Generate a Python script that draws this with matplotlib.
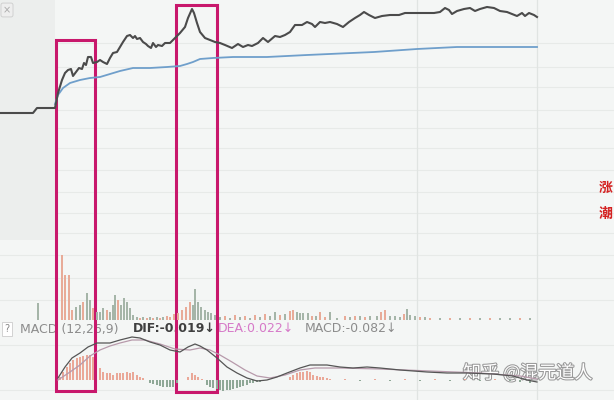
import matplotlib.pyplot as plt
from matplotlib.patches import Rectangle
import matplotlib.patheffects as pe

plt.rcParams['font.family'] = ['DejaVu Sans', 'Noto Sans CJK SC']

# intraday price line (time index, price)
price_t = [0, 33, 37, 55, 58, 62, 65, 68, 71, 73, 76, 79, 82, 84, 86, 88, 91, 93, 97, 100,
           103, 107, 110, 113, 117, 120, 123, 127, 130, 133, 135, 137, 140, 143, 146, 148, 151, 153, 156, 158,
           162, 165, 170, 175, 180, 185, 188, 192, 194, 197, 200, 205, 210, 215, 220, 225, 232, 238, 243, 248,
           252, 258, 263, 268, 275, 280, 285, 290, 295, 302, 307, 312, 315, 320, 325, 330, 337, 343, 349, 355,
           360, 364, 369, 375, 382, 390, 399, 405, 414, 422, 434, 440, 445, 449, 452, 457, 464, 470, 475, 480,
           487, 494, 500, 507, 512, 517, 522, 525, 529, 534, 537]
price = [10.00, 10.00, 10.05, 10.05, 10.20, 10.33, 10.40, 10.43, 10.44, 10.37, 10.41, 10.45, 10.44, 10.50, 10.48, 10.56, 10.56, 10.50, 10.51, 10.53,
         10.51, 10.49, 10.55, 10.60, 10.61, 10.66, 10.71, 10.77, 10.78, 10.75, 10.77, 10.74, 10.75, 10.71, 10.69, 10.67, 10.65, 10.70, 10.66, 10.68,
         10.67, 10.70, 10.70, 10.75, 10.80, 10.86, 10.95, 11.04, 11.00, 10.90, 10.81, 10.75, 10.73, 10.71, 10.70, 10.68, 10.65, 10.69, 10.66, 10.68,
         10.67, 10.70, 10.75, 10.71, 10.77, 10.76, 10.78, 10.81, 10.88, 10.88, 10.91, 10.89, 10.86, 10.91, 10.90, 10.91, 10.89, 10.86, 10.91, 10.95,
         10.98, 11.01, 10.98, 10.95, 10.97, 10.98, 10.98, 11.00, 11.00, 11.00, 11.00, 11.01, 11.05, 11.03, 10.99, 11.02, 11.04, 11.05, 11.02, 11.04,
         11.06, 11.05, 11.02, 11.01, 10.99, 10.97, 11.00, 10.97, 11.00, 10.98, 10.96]

# average price line
avg_t = [55, 58, 63, 70, 80, 90, 100, 110, 120, 133, 150, 167, 180, 187, 193, 200, 213, 233, 267, 307,
         374, 417, 457, 537]
avg = [10.09, 10.18, 10.25, 10.30, 10.33, 10.35, 10.36, 10.39, 10.42, 10.45, 10.45, 10.46, 10.47, 10.49, 10.51, 10.54, 10.55, 10.56, 10.56, 10.58,
       10.61, 10.64, 10.66, 10.66]

# volume bars (time index, volume, up/down)
vol_t = [38, 62, 65, 69, 72, 76, 80, 83, 87, 90, 93, 97, 100, 103, 107, 110, 113, 115, 118, 121,
         124, 127, 130, 133, 137, 140, 143, 147, 150, 153, 157, 160, 163, 167, 170, 174, 178, 182, 186, 190,
         193, 195, 198, 201, 205, 208, 211, 215, 220, 225, 230, 235, 240, 245, 250, 255, 260, 265, 270, 275,
         280, 285, 290, 293, 297, 300, 303, 308, 312, 316, 320, 325, 330, 337, 345, 350, 355, 360, 365, 370,
         377, 381, 385, 390, 395, 400, 404, 407, 410, 415, 420, 425, 430, 440, 450, 460, 470, 480, 490, 500,
         510, 520, 530]
vol = [170, 650, 450, 450, 100, 130, 150, 180, 270, 200, 120, 80, 80, 120, 100, 80, 150, 250, 200, 150,
       220, 180, 120, 50, 30, 20, 30, 20, 30, 20, 30, 20, 30, 40, 30, 60, 70, 100, 130, 180,
       150, 310, 180, 130, 100, 80, 70, 50, 30, 40, 20, 50, 30, 40, 20, 50, 30, 60, 40, 80,
       50, 60, 90, 100, 80, 70, 70, 70, 40, 40, 80, 30, 80, 20, 40, 30, 40, 40, 30, 40,
       40, 80, 100, 40, 40, 30, 60, 110, 50, 40, 30, 30, 20, 20, 20, 20, 20, 20, 20, 20,
       20, 20, 20]
vol_up = "grrrrggrggrgggrgggrg" \
         "gggggrgrgrgrgrrrrrrr" \
         "gggggggggrgrgrgrgrgg" \
         "rgrrggggrgrrggrgrgrg" \
         "grrgggrgggrgrgrgrgrg" \
         "grg"

# MACD panel
dif_t = [58, 65, 72, 80, 88, 97, 110, 120, 132, 140, 150, 160, 170, 180, 188, 195, 200, 207, 217, 227,
         237, 247, 257, 267, 277, 287, 300, 310, 327, 340, 353, 367, 380, 400, 427, 447, 467, 493, 513, 527, 537]
dif = [0.004, 0.026, 0.044, 0.054, 0.066, 0.074, 0.074, 0.080, 0.086, 0.084, 0.076, 0.070, 0.060, 0.056, 0.066, 0.072, 0.068, 0.060, 0.044, 0.026,
       0.014, 0.004, -0.002, 0.000, 0.006, 0.014, 0.024, 0.030, 0.030, 0.026, 0.024, 0.026, 0.024, 0.020, 0.016, 0.014, 0.014, 0.012, 0.008, 0.000, -0.004]
dea_t = [58, 70, 80, 90, 100, 110, 120, 132, 145, 160, 175, 190, 200, 210, 220, 232, 245, 257, 270, 285,
         300, 315, 340, 380, 430, 480, 520, 537]
dea = [0.000, 0.016, 0.030, 0.048, 0.060, 0.068, 0.074, 0.080, 0.080, 0.072, 0.062, 0.060, 0.064, 0.060, 0.050, 0.036, 0.020, 0.008, 0.004, 0.010,
       0.020, 0.024, 0.024, 0.022, 0.018, 0.014, 0.008, 0.002]
hist_t = [60, 63, 67, 70, 73, 77, 80, 83, 87, 90, 93, 100, 103, 107, 110, 113, 117, 120, 123, 127,
          130, 133, 137, 140, 143, 150, 153, 157, 160, 163, 167, 170, 173, 177, 188, 192, 195, 198, 202, 207,
          210, 213, 217, 220, 223, 227, 230, 233, 237, 240, 243, 247, 250, 253, 257, 260, 290, 293, 297, 300,
          303, 307, 310, 313, 317, 320, 323, 327, 330, 345, 360, 375, 390, 405, 420, 435, 450, 465, 480, 495,
          510, 520, 530]
hist = [0.006, 0.016, 0.026, 0.034, 0.040, 0.044, 0.046, 0.048, 0.050, 0.050, 0.046, 0.024, 0.016, 0.014, 0.014, 0.010, 0.014, 0.014, 0.014, 0.016,
        0.014, 0.016, 0.010, 0.006, 0.004, -0.006, -0.008, -0.010, -0.012, -0.014, -0.014, -0.014, -0.014, -0.006, 0.006, 0.014, 0.010, 0.006, 0.002, -0.010,
        -0.014, -0.016, -0.018, -0.020, -0.022, -0.020, -0.020, -0.018, -0.016, -0.014, -0.012, -0.010, -0.006, -0.006, -0.004, -0.004, 0.006, 0.010, 0.014, 0.016,
        0.016, 0.018, 0.016, 0.010, 0.008, 0.006, 0.006, 0.004, 0.002, 0.002, -0.002, 0.002, -0.002, 0.002, -0.002, 0.002, -0.002, 0.002, -0.002, 0.002,
        -0.002, -0.004, -0.006]

highlight_spans = [(56, 95, 40, 391), (176, 217, 5, 392)]

bg_col = '#f4f6f5'
fig = plt.figure(figsize=(6.14, 4), dpi=100, facecolor=bg_col)

# background layer in pixel units
bg = fig.add_axes([0, 0, 1, 1])
bg.set_xlim(0, 614)
bg.set_ylim(400, 0)
bg.axis('off')
bg.add_patch(Rectangle((0, 0), 55, 240, color='#eceeed', lw=0))
for y in [43, 67, 87, 110, 128, 148, 170, 192, 213, 233, 255, 278, 300, 345, 390]:
    bg.axhline(y, color='#e7eae8', lw=0.8, zorder=0)
for x in [417, 537]:
    bg.axvline(x, color='#e0e4e2', lw=0.9, zorder=0)

def overlay(bottom, top):
    ax = fig.add_axes([0, 1 - bottom / 400, 1, (bottom - top) / 400])
    ax.set_xlim(0, 614)
    ax.patch.set_alpha(0)
    ax.axis('off')
    return ax

ax_p = overlay(125, 0)
ax_p.set_ylim(9.88, 11.13)
ax_p.plot(avg_t, avg, color='#6f9fcb', lw=1.3)
ax_p.plot(price_t, price, color='#4b4b4b', lw=1.5)

ax_v = overlay(320, 250)
ax_v.set_ylim(0, 700)
vcols = ['#e8ab98' if c == 'r' else '#a5b5a8' for c in vol_up]
ax_v.bar(vol_t, vol, width=1.2, color=vcols)

ax_m = overlay(400, 335)
ax_m.set_ylim(-0.04, 0.09)
hcols = ['#eaa898' if v > 0 else '#8fa897' for v in hist]
ax_m.bar(hist_t, hist, width=1.4, color=hcols)
ax_m.plot(dea_t, dea, color='#b79aab', lw=0.9)
ax_m.plot(dif_t, dif, color='#555555', lw=0.9)

# highlight boxes
for x0, x1, y0, y1 in highlight_spans:
    bg.add_patch(Rectangle((x0, y0), x1 - x0, y1 - y0, fill=False,
                           ec='#c8186c', lw=2.2, zorder=5))

# labels
bg.text(7, 10, '×', fontsize=7, color='#aaaaaa', ha='center', va='center',
        bbox=dict(boxstyle='round,pad=0.2', fc='#eeeeee', ec='#cccccc', lw=0.6))
bg.text(7, 329, '?', fontsize=7, color='#888888', ha='center', va='center',
        bbox=dict(boxstyle='square,pad=0.2', fc='white', ec='#cccccc', lw=0.6))
bg.text(20, 329, 'MACD (12,26,9)', fontsize=9, color='#8c8c8c', va='center')
bg.text(133, 329, 'DIF:-0.019↓', fontsize=9, color='#3f3f3f', weight='bold', va='center')
bg.text(218, 329, 'DEA:0.022↓', fontsize=9, color='#d67ac8', va='center')
bg.text(305, 329, 'MACD:-0.082↓', fontsize=9, color='#8c8c8c', va='center')

bg.text(599, 188, '涨', fontsize=10, color='#d42222', weight='bold', va='center',
        family=['Noto Sans CJK SC'])
bg.text(599, 214, '潮', fontsize=10, color='#d42222', weight='bold', va='center',
        family=['Noto Sans CJK SC'])

bg.text(463, 373, '知乎 @混元道人', fontsize=13, color='white', va='center',
        family=['Noto Sans CJK SC', 'DejaVu Sans'], zorder=6,
        path_effects=[pe.withStroke(linewidth=1.5, foreground='#999999')])

fig.savefig('out.png', dpi=100, facecolor=bg_col)
